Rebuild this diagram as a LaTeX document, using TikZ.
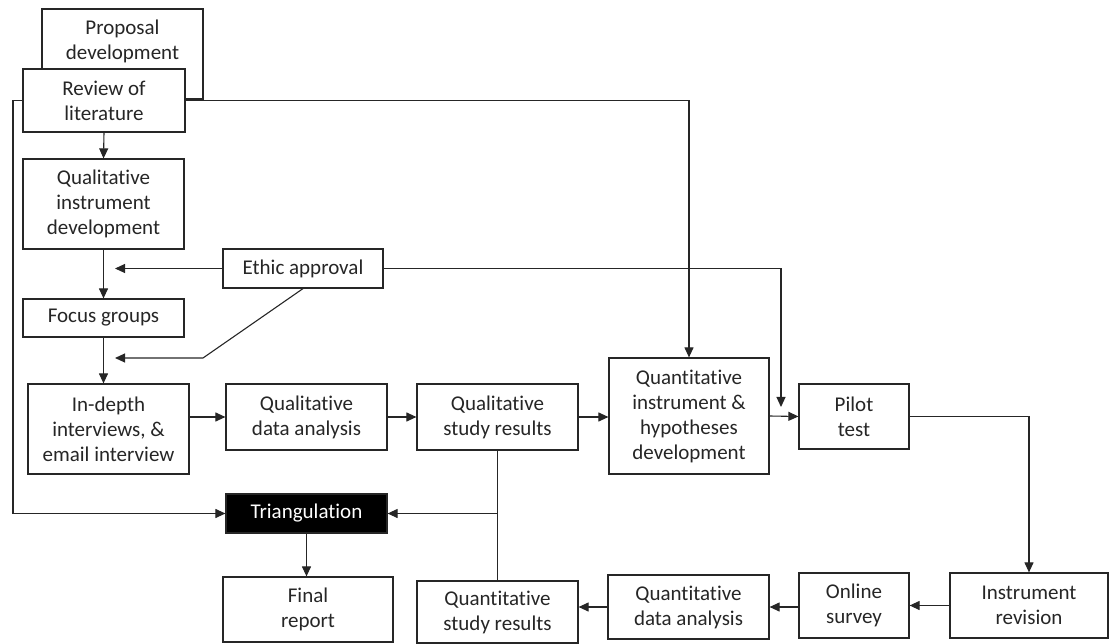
\documentclass[tikz,border=0pt]{standalone}
\usepackage{fontspec}
\setmainfont{Carlito}[Ligatures=CommonOff]
\usetikzlibrary{arrows.meta,calc}
\definecolor{ink}{HTML}{262626}
\definecolor{txt}{HTML}{262626}
\begin{document}
\begin{tikzpicture}[x=1pt,y=-1pt,
  lbl/.style={align=center, inner sep=0pt, text=txt, font=\fontsize{21}{25}\selectfont},
  box/.style={lbl, draw=ink, line width=1.2pt, fill=white},
  conn/.style={draw=ink, line width=1.1pt},
  arr/.style={conn, -{Triangle[length=10pt,width=9pt]}}]
\useasboundingbox (0,0) rectangle (1109,644);

% left column
\node[box, minimum width=161pt, minimum height=90pt] (prop) at (122.5,54) {};
\node[lbl] (proptext) at (122.5,41) {Proposal\\development};
\node[box, minimum width=162pt, minimum height=63pt] (rev) at (104,100.5) {Review of\\literature};
\node[box, minimum width=161pt, minimum height=90pt] (qid) at (103.5,204) {Qualitative\\instrument\\development};
\node[box, minimum width=160pt, minimum height=39pt] (eth) at (303,268.5) {Ethic approval};
\node[box, minimum width=161pt, minimum height=38pt] (foc) at (103.5,318) {Focus groups};
\node[box, minimum width=161pt, minimum height=90pt] (ind) at (108.5,429) {In-depth\\interviews, \&\\email interview};

% middle row
\node[box, minimum width=161pt, minimum height=66pt] (qda) at (306.5,417) {Qualitative\\data analysis};
\node[box, minimum width=161pt, minimum height=66pt] (qsr) at (497.5,417) {Qualitative\\study results};
\node[box, minimum width=160pt, minimum height=116pt] (qih) at (689,416) {Quantitative\\instrument \&\\hypotheses\\development};
\node[box, minimum width=110pt, minimum height=65pt] (pil) at (854,416.5) {Pilot\\test};

% bottom rows
\node[box, fill=black, text=white, minimum width=161pt, minimum height=39pt] (tri) at (306.5,513.5) {Triangulation};
\node[box, minimum width=170pt, minimum height=65pt] (fin) at (308,609.5) {Final\\report};
\node[box, minimum width=161pt, minimum height=62pt] (qsq) at (497.5,612) {Quantitative\\study results};
\node[box, minimum width=161pt, minimum height=64pt] (qna) at (688.5,607) {Quantitative\\data analysis};
\node[box, minimum width=110pt, minimum height=65pt] (ons) at (854,605.5) {Online\\survey};
\node[box, minimum width=158pt, minimum height=65pt] (irv) at (1029,605.5) {Instrument\\revision};

% free ends of the ethic approval arrows
\coordinate (ethA) at (115,268.5);
\coordinate (ethBend) at (203,358);
\coordinate (ethB) at (115,358);
\coordinate (ethC) at (781,268.5);
\coordinate (ethD) at (781,407);
\coordinate (leftrail) at (13,100.5);
\coordinate (junc) at (qsr.south |- tri.east);

% qualitative strand
\draw[arr] (rev.south) -- (qid.north);
\draw[arr] (qid.south) -- (qid.south |- foc.north);
\draw[arr] (foc.south) -- (foc.south |- ind.north);
\draw[arr] (eth.west) -- (ethA);
\draw[arr] (eth.south) -- (ethBend) -- (ethB);
\draw[arr] (eth.east) -- (ethC) -- (ethD);
\draw[arr] (ind.east |- qda.west) -- (qda.west);
\draw[arr] (qda.east) -- (qsr.west);
\draw[arr] (qsr.east) -- (qih.west |- qsr.east);
\draw[arr] (qih.east) -- (pil.west);

% literature feeds the quantitative instrument and the triangulation
\draw[arr] (rev.east) -- (qih.north |- rev.east) -- (qih.north);
\draw[arr] (rev.west) -- (leftrail) |- (tri.west);

% quantitative strand
\draw[arr] (pil.east) -- (irv.north |- pil.east) -- (irv.north);
\draw[arr] (irv.west) -- (ons.east);
\draw[arr] (ons.west |- qna.east) -- (qna.east);
\draw[arr] (qna.west) -- (qna.west -| qsq.east);

% both results into triangulation
\draw[conn] (qsr.south) -- (qsq.north);
\draw[arr] (junc) -- (tri.east);
\draw[arr] (tri.south) -- (tri.south |- fin.north);
\end{tikzpicture}
\end{document}
